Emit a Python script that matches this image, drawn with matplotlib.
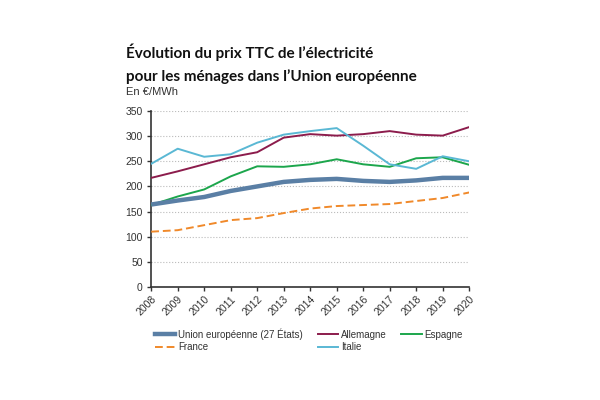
import matplotlib.pyplot as plt
from matplotlib.lines import Line2D

# Data
years = list(range(2008, 2021))
ue = [164, 172, 179, 191, 200, 209, 213, 215, 211, 209, 212, 217, 217]
allemagne = [217, 230, 244, 258, 268, 297, 304, 301, 304, 310, 303, 301, 318]
espagne = [163, 180, 194, 220, 240, 239, 244, 254, 244, 239, 256, 258, 243]
italie = [245, 275, 259, 264, 287, 303, 310, 316, 281, 244, 235, 260, 250]
france = [110, 113, 123, 133, 137, 147, 156, 161, 163, 165, 171, 177, 188]

fig = plt.figure(figsize=(6, 4), dpi=100)
ax = fig.add_axes([0.252, 0.2825, 0.53, 0.44])

ax.plot(years, allemagne, color='#8c1c4c', lw=1.4, zorder=3)
ax.plot(years, espagne, color='#1ca64c', lw=1.4, zorder=3)
ax.plot(years, italie, color='#5ab8d4', lw=1.4, zorder=3)
ax.plot(years, france, color='#f0892a', lw=1.4, ls=(0, (4, 2)), zorder=3)
ax.plot(years, ue, color='#5a7fa5', lw=3.2, zorder=4, solid_capstyle='butt')

ax.set_xlim(2008, 2020)
ax.set_ylim(0, 350)
ax.set_yticks(range(0, 351, 50))
ax.set_xticks(years)
ax.set_xticklabels([str(y) for y in years], rotation=45, ha='right',
                   rotation_mode='anchor', fontsize=7.5, color='#333333',
                   family='Liberation Sans')
for lbl in ax.get_yticklabels():
    lbl.set_fontsize(7.5)
    lbl.set_color('#333333')
    lbl.set_family('Liberation Sans')
ax.tick_params(axis='x', length=3, width=1, color='#333333', pad=2)
ax.tick_params(axis='y', length=3, width=1, color='#333333', pad=3)
ax.yaxis.grid(True, ls=':', color='#bbbbbb', lw=0.8)
ax.set_axisbelow(True)
for s in ['top', 'right']:
    ax.spines[s].set_visible(False)
for s in ['left', 'bottom']:
    ax.spines[s].set_color('#333333')
    ax.spines[s].set_linewidth(1.2)

# Titles
fig.text(0.21, 0.855, "Évolution du prix TTC de l’électricité",
         fontsize=11, fontweight='bold', family='Lato', color='#111111')
fig.text(0.21, 0.797, "pour les ménages dans l’Union européenne",
         fontsize=11, fontweight='bold', family='Lato', color='#111111')
fig.text(0.21, 0.762, "En €/MWh", fontsize=8, family='Liberation Sans',
         color='#333333')

handles = [
    Line2D([], [], color='#5a7fa5', lw=3.2),
    Line2D([], [], color='#f0892a', lw=1.4, ls=(0, (4, 2))),
    Line2D([], [], color='#8c1c4c', lw=1.4),
    Line2D([], [], color='#5ab8d4', lw=1.4),
    Line2D([], [], color='#1ca64c', lw=1.4),
]
labels = ['Union européenne (27 États)', 'France', 'Allemagne', 'Italie', 'Espagne']
fig.legend(handles, labels, ncol=3, loc='center', bbox_to_anchor=(0.515, 0.15),
           frameon=False, prop={'family': 'Liberation Sans', 'size': 7},
           handlelength=2.1, handletextpad=0.3, columnspacing=1.5,
           labelspacing=0.25, labelcolor='#333333')

fig.savefig('out.png', dpi=100, facecolor='white')
